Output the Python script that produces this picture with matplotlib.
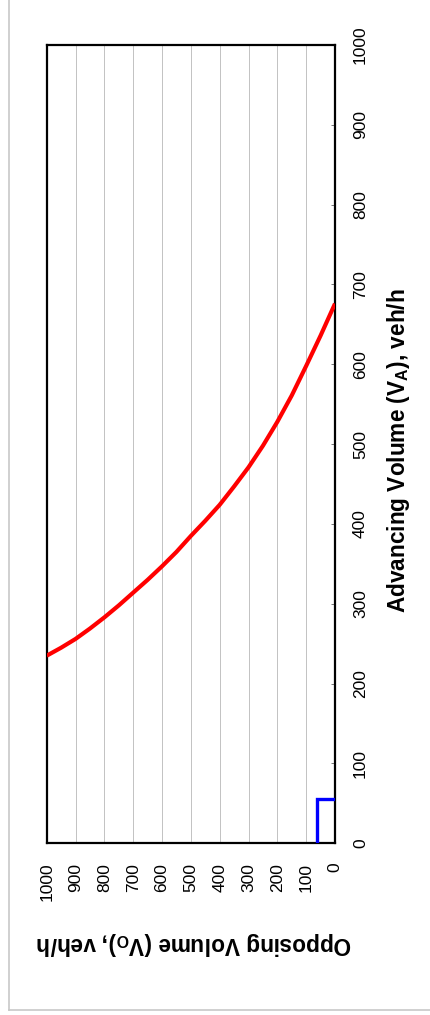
import matplotlib
matplotlib.use("Agg")
import matplotlib.pyplot as plt
from matplotlib.lines import Line2D

plt.rcParams['font.family'] = ['Liberation Sans', 'DejaVu Sans']
plt.rcParams['mathtext.fontset'] = 'custom'
plt.rcParams['mathtext.rm'] = 'Liberation Sans:bold'
plt.rcParams['mathtext.it'] = 'Liberation Sans:bold'
plt.rcParams['mathtext.bf'] = 'Liberation Sans:bold'

# Data (chart is drawn turned on its side: x = opposing volume, y = advancing volume)
opposing_vol = [1000, 950, 900, 850, 800, 750, 700, 650, 600, 550, 500,
                450, 400, 350, 300, 250, 200, 150, 100, 50, 0]
advancing_vol = [235, 245, 256, 269, 283, 298, 314, 330, 347, 365, 385,
                 404, 424, 447, 471, 498, 528, 561, 598, 636, 676]

# operating point box (blue)
point_vo = [61, 61, 0]
point_va = [0, 56, 56]

ticks = [0, 100, 200, 300, 400, 500, 600, 700, 800, 900, 1000]

W, H = 430, 1015
fig = plt.figure(figsize=(W / 100, H / 100), dpi=100)

left, right, top, bottom = 46.7, 335.0, 45.0, 843.3
ax = fig.add_axes([left / W, 1 - bottom / H, (right - left) / W, (bottom - top) / H])

ax.plot(opposing_vol, advancing_vol, color='#ff0000', lw=3.0, solid_capstyle='butt', zorder=3)
ax.plot(point_vo, point_va, color='#0000ff', lw=2.4, solid_joinstyle='miter', zorder=3)

ax.set_xlim(1000, 0)
ax.set_ylim(0, 1000)
ax.set_xticks(ticks)
ax.set_yticks(ticks)
ax.set_xticklabels([str(t) for t in ticks], rotation=90)
ax.set_yticklabels([str(t) for t in ticks], rotation=90, va='center')

ax.yaxis.tick_right()
ax.tick_params(axis='y', direction='in', length=3, width=0.6, color='#606060',
               pad=13, labelsize=12.5)
ax.tick_params(axis='x', length=0, pad=14, labelsize=12.5)

ax.grid(axis='x', color='#b8b8b8', lw=0.6)
ax.set_axisbelow(True)
for s in ax.spines.values():
    s.set_linewidth(1.6)
    s.set_color('black')

fig.text(194 / W, 1 - 943 / H, "Opposing Volume (V$_O$), veh/h", rotation=180,
         ha='center', va='center', fontsize=16.3, fontweight='bold')
fig.text(398 / W, 1 - 451 / H, "Advancing Volume (V$_A$), veh/h", rotation=90,
         ha='center', va='center', fontsize=16.3, fontweight='bold')

# outer frame (left and bottom edges visible)
fig.add_artist(Line2D([8.5 / W, 8.5 / W], [1, 1 - 1010 / H], color='#c8c8c8', lw=1.2,
                      transform=fig.transFigure))
fig.add_artist(Line2D([8.5 / W, 1], [1 - 1010 / H, 1 - 1010 / H], color='#c8c8c8', lw=1.2,
                      transform=fig.transFigure))

fig.savefig("out.png", dpi=100)
